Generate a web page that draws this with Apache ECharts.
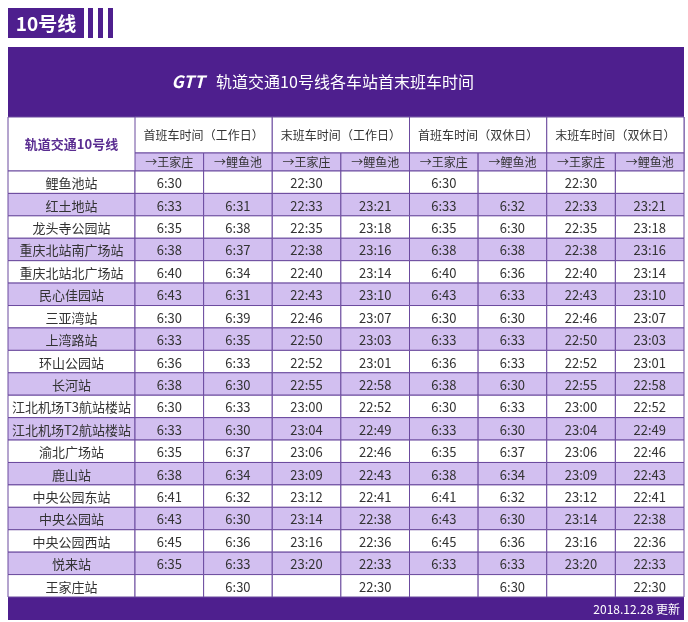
<!DOCTYPE html>
<html><head><meta charset="utf-8">
<script src="https://cdn.jsdelivr.net/npm/echarts@6/dist/echarts.min.js"></script>
<style>html,body{margin:0;padding:0;background:#fff}#main{width:688px;height:622px}</style>
</head><body><div id="main"></div>
<script>
const stations = ["鲤鱼池站","红土地站","龙头寺公园站","重庆北站南广场站","重庆北站北广场站","民心佳园站","三亚湾站","上湾路站","环山公园站","长河站","江北机场T3航站楼站","江北机场T2航站楼站","渝北广场站","鹿山站","中央公园东站","中央公园站","中央公园西站","悦来站","王家庄站"];
const groups = ["首班车时间（工作日）","末班车时间（工作日）","首班车时间（双休日）","末班车时间（双休日）"];
const dirs = ["→王家庄","→鲤鱼池"];
const wdFirstWjz = ["6:30","6:33","6:35","6:38","6:40","6:43","6:30","6:33","6:36","6:38","6:30","6:33","6:35","6:38","6:41","6:43","6:45","6:35",""];
const wdFirstLyc = ["","6:31","6:38","6:37","6:34","6:31","6:39","6:35","6:33","6:30","6:33","6:30","6:37","6:34","6:32","6:30","6:36","6:33","6:30"];
const wdLastWjz = ["22:30","22:33","22:35","22:38","22:40","22:43","22:46","22:50","22:52","22:55","23:00","23:04","23:06","23:09","23:12","23:14","23:16","23:20",""];
const wdLastLyc = ["","23:21","23:18","23:16","23:14","23:10","23:07","23:03","23:01","22:58","22:52","22:49","22:46","22:43","22:41","22:38","22:36","22:33","22:30"];
const weFirstWjz = ["6:30","6:33","6:35","6:38","6:40","6:43","6:30","6:33","6:36","6:38","6:30","6:33","6:35","6:38","6:41","6:43","6:45","6:33",""];
const weFirstLyc = ["","6:32","6:30","6:38","6:36","6:33","6:30","6:33","6:33","6:30","6:33","6:30","6:37","6:34","6:32","6:30","6:36","6:33","6:30"];
const weLastWjz = ["22:30","22:33","22:35","22:38","22:40","22:43","22:46","22:50","22:52","22:55","23:00","23:04","23:06","23:09","23:12","23:14","23:16","23:20",""];
const weLastLyc = ["","23:21","23:18","23:16","23:14","23:10","23:07","23:03","23:01","22:58","22:52","22:49","22:46","22:43","22:41","22:38","22:36","22:33","22:30"];
const timeCols = [wdFirstWjz,wdFirstLyc,wdLastWjz,wdLastLyc,weFirstWjz,weFirstLyc,weLastWjz,weLastLyc];

const PURPLE = "#4e1f8e", LIGHT = "#d2bff0", LINE = "#6b4a9e";
const FONT = "'Noto Sans CJK SC', sans-serif";

const stationData = stations.map((s, i) => [0, i]);
const stationText = stations.slice();
const timeData = [], timeText = [];
timeCols.forEach((col, c) => col.forEach((v, r) => { timeData.push([c, r]); timeText.push(v); }));

function makeCell(texts) {
  return function (params, api) {
    const c = api.coord([api.value(0), api.value(1)]);
    const sz = api.size([1, 1]);
    const r = api.value(1);
    return {
      type: "group",
      children: [
        { type: "rect", shape: { x: c[0] - sz[0] / 2, y: c[1] - sz[1] / 2, width: sz[0], height: sz[1] },
          style: { fill: r % 2 ? LIGHT : "#fff", stroke: LINE, lineWidth: 1 } },
        { type: "text", x: c[0], y: c[1] + 1,
          style: { text: texts[params.dataIndex], fill: "#333", font: "13px " + FONT, align: "center", verticalAlign: "middle" } }
      ]
    };
  };
}

const left0 = 8, w0 = 127, left1 = 135, w1 = 549, gridTop = 171, gridH = 426, headTop = 117;
const colW = w1 / 8;
const graphic = [
  { type: "rect", shape: { x: 8, y: 8, width: 76, height: 30 }, style: { fill: PURPLE } },
  { type: "text", x: 46, y: 24, style: { text: "10号线", fill: "#fff", font: "bold 19px " + FONT, align: "center", verticalAlign: "middle" } },
  { type: "rect", shape: { x: 88, y: 8, width: 5, height: 30 }, style: { fill: PURPLE } },
  { type: "rect", shape: { x: 98, y: 8, width: 5, height: 30 }, style: { fill: PURPLE } },
  { type: "rect", shape: { x: 108, y: 8, width: 5, height: 30 }, style: { fill: PURPLE } },
  { type: "rect", shape: { x: 8, y: 47, width: 676, height: 70 }, style: { fill: PURPLE } },
  { type: "text", x: 188, y: 82, style: { text: "GTT", fill: "#fff", font: "italic bold 17px " + FONT, align: "center", verticalAlign: "middle" } },
  { type: "text", x: 345, y: 82, style: { text: "轨道交通10号线各车站首末班车时间", fill: "#fff", font: "16px " + FONT, align: "center", verticalAlign: "middle" } },
  { type: "rect", shape: { x: 8, y: headTop, width: 676, height: 54 }, style: { fill: "#fff", stroke: LINE, lineWidth: 1 } },
  { type: "text", x: left0 + w0 / 2, y: 144, style: { text: "轨道交通10号线", fill: "#5a2d91", font: "bold 13px " + FONT, align: "center", verticalAlign: "middle" } },
  { type: "rect", shape: { x: 8, y: 597, width: 676, height: 23 }, style: { fill: PURPLE } },
  { type: "text", x: 680, y: 609, style: { text: "2018.12.28 更新", fill: "#fff", font: "12px " + FONT, align: "right", verticalAlign: "middle" } }
];
groups.forEach((g, i) => {
  const x = left1 + i * 2 * colW;
  graphic.push({ type: "rect", shape: { x: x, y: headTop, width: 2 * colW, height: 36 }, style: { fill: "#fff", stroke: LINE, lineWidth: 1 } });
  graphic.push({ type: "text", x: x + colW, y: headTop + 18, style: { text: g, fill: "#333", font: "12px " + FONT, align: "center", verticalAlign: "middle" } });
  dirs.forEach((d, j) => {
    const xx = x + j * colW;
    graphic.push({ type: "rect", shape: { x: xx, y: headTop + 36, width: colW, height: 18 }, style: { fill: LIGHT, stroke: LINE, lineWidth: 1 } });
    graphic.push({ type: "text", x: xx + colW / 2, y: headTop + 45, style: { text: d, fill: "#333", font: "12px " + FONT, align: "center", verticalAlign: "middle" } });
  });
});

const chart = echarts.init(document.getElementById("main"));
chart.setOption({
  animation: false,
  grid: [
    { left: left0, top: gridTop, width: w0, height: gridH },
    { left: left1, top: gridTop, width: w1, height: gridH }
  ],
  xAxis: [
    { type: "category", gridIndex: 0, data: ["站"], show: false },
    { type: "category", gridIndex: 1, data: timeCols.map((c, i) => String(i)), show: false }
  ],
  yAxis: [
    { type: "category", gridIndex: 0, data: stations, inverse: true, show: false },
    { type: "category", gridIndex: 1, data: stations, inverse: true, show: false }
  ],
  series: [
    { type: "custom", xAxisIndex: 0, yAxisIndex: 0, data: stationData, renderItem: makeCell(stationText) },
    { type: "custom", xAxisIndex: 1, yAxisIndex: 1, data: timeData, renderItem: makeCell(timeText) }
  ],
  graphic: graphic
});
</script></body></html>
